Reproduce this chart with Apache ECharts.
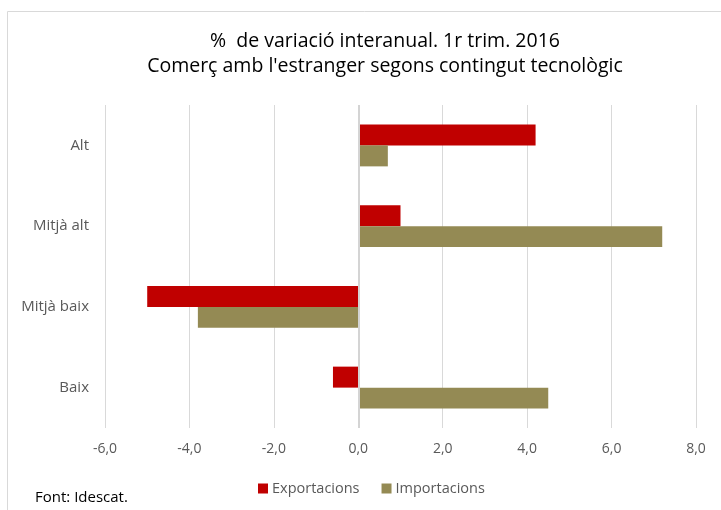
<!DOCTYPE html>
<html>
<head>
<meta charset="utf-8">
<script src="https://cdn.jsdelivr.net/npm/echarts@6/dist/echarts.min.js"></script>
<style>
  html, body { margin: 0; padding: 0; background: #fff; }
  #main { width: 721px; height: 510px; }
</style>
</head>
<body>
<div id="main"></div>
<script>
(function(){
    // dades
    var categories = ['Alt', 'Mitjà alt', 'Mitjà baix', 'Baix'];
    var exportacions = [4.2, 1.0, -5.0, -0.6];
    var importacions = [0.7, 7.2, -3.8, 4.5];
    var xTicks = { min: -6, max: 8, interval: 2 };

    var myChart = echarts.init(document.getElementById('main'));

    var option = {
        animation: false,
        textStyle: { fontFamily: 'Open Sans' },

        // títol en dues línies
        title: {
            text: '%  de variació interanual. 1r trim. 2016\nComerç amb l\'estranger segons contingut tecnològic',
            left: 380,
            top: 24,
            textAlign: 'center',
            textStyle: {
                fontSize: 19.5,
                fontWeight: 'normal',
                color: '#000',
                lineHeight: 25
            }
        },

        legend: {
            left: 253,
            top: 476,
            itemWidth: 10,
            itemHeight: 10,
            itemGap: 22,
            icon: 'rect',
            textStyle: { color: '#595959', fontSize: 14.5, padding: [0, 0, 0, -1] },
            data: ['Exportacions', 'Importacions']
        },

        grid: {
            top: 105,
            left: 105,
            right: 25,
            height: 323,
            outerBoundsMode: 'none'
        },

        xAxis: {
            type: 'value',
            min: xTicks.min,
            max: xTicks.max,
            interval: xTicks.interval,
            axisLine: { show: false },
            axisTick: { show: false },
            axisLabel: {
                margin: 14,
                color: '#595959',
                fontSize: 14,
                formatter: function (v) { return v.toFixed(1).replace('.', ','); }
            },
            splitLine: { lineStyle: { color: '#d9d9d9', width: 1 } }
        },

        yAxis: {
            type: 'category',
            inverse: true,
            data: categories,
            axisLine: { show: false, onZero: false },
            axisTick: { show: false },
            axisLabel: {
                margin: 16,
                color: '#595959',
                fontSize: 15
            }
        },

        graphic: [{
            type: 'rect',
            shape: { x: 7.5, y: 11.5, width: 730, height: 510 },
            style: { fill: 'none', stroke: '#d9d9d9', lineWidth: 1 },
            silent: true
        }, {
            type: 'text',
            left: 35,
            top: 490,
            style: { text: 'Font: Idescat.', fill: '#000', font: '15px "Open Sans"' }
        }],

        series: [{
            name: 'Exportacions',
            type: 'bar',
            barGap: '0%',
            barCategoryGap: '48%',
            itemStyle: { color: '#c00000' },
            // línia del zero, més gruixuda
            markLine: {
                silent: true,
                symbol: 'none',
                label: { show: false },
                lineStyle: { color: '#d4d4d4', width: 2, type: 'solid' },
                data: [{ xAxis: 0 }]
            },
            data: exportacions
        }, {
            name: 'Importacions',
            type: 'bar',
            barGap: '0%',
            barCategoryGap: '48%',
            itemStyle: { color: '#948a54' },
            data: importacions
        }]
    };

    myChart.setOption(option);
})();
</script>
</body>
</html>
